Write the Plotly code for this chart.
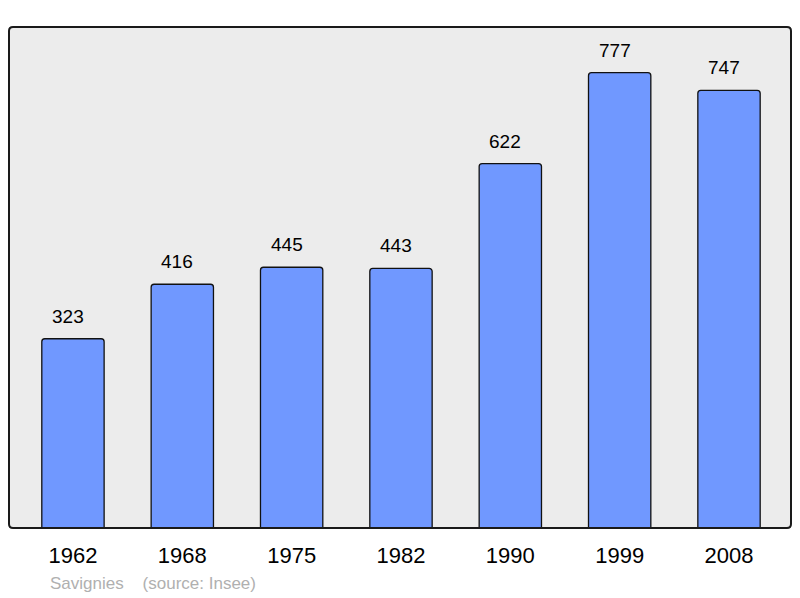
import plotly.graph_objects as go

years = ['1962', '1968', '1975', '1982', '1990', '1999', '2008']
population = [323, 416, 445, 443, 622, 777, 747]
positions = list(range(len(years)))

fig = go.Figure(
    go.Bar(
        x=positions,
        y=population,
        width=0.57,
        marker=dict(color='#7098ff', line=dict(color='#111111', width=1.3), cornerradius=3),
        hoverinfo='skip',
    )
)

for x, v in zip(positions, population):
    fig.add_annotation(
        x=x, y=v, text=str(v), showarrow=False,
        yanchor='bottom', yshift=10, xshift=-5,
        font=dict(size=19, color='#000000'),
    )

# frame with slightly rounded corners (paper units, plot is 782x501 px)
rx, ry = 4 / 782, 4 / 501
frame = (
    f'M {rx},0 L {1 - rx},0 Q 1,0 1,{ry} L 1,{1 - ry} Q 1,1 {1 - rx},1 '
    f'L {rx},1 Q 0,1 0,{1 - ry} L 0,{ry} Q 0,0 {rx},0 Z'
)
fig.add_shape(
    type='path', path=frame, xref='paper', yref='paper',
    line=dict(color='#1a1a1a', width=2), layer='above',
)

fig.add_annotation(
    xref='paper', yref='paper', x=0.05, y=-0.11, xanchor='left', yanchor='middle',
    text='Savignies\u00a0\u00a0\u00a0\u00a0(source: Insee)', showarrow=False,
    font=dict(size=17, color='#b0b0b0'),
)

fig.update_layout(
    width=800,
    height=598,
    margin=dict(l=9, r=9, t=27, b=70),
    paper_bgcolor='#ffffff',
    plot_bgcolor='#ececec',
    font=dict(family='Liberation Sans, Arial, sans-serif', color='#000000'),
    showlegend=False,
    xaxis=dict(
        range=[-0.585, 6.567],
        tickvals=positions,
        ticktext=years,
        tickfont=dict(size=22),
        ticks='outside', ticklen=8, tickcolor='rgba(0,0,0,0)',
        showgrid=False, zeroline=False, fixedrange=True,
    ),
    yaxis=dict(
        range=[0, 855],
        showticklabels=False,
        showgrid=False, zeroline=False, fixedrange=True,
    ),
)

fig.write_html(
    "out.html",
    config={'displayModeBar': False},
    post_script="document.body.style.margin='0';",
)
